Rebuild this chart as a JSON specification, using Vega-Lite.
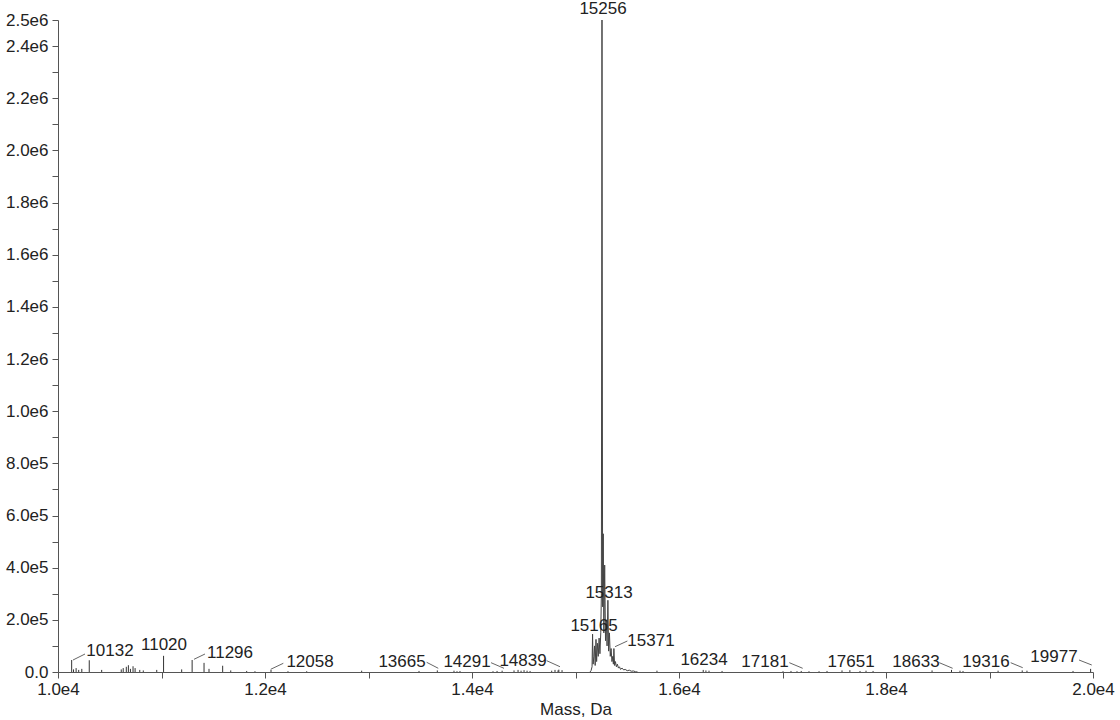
{
  "$schema": "https://vega.github.io/schema/vega-lite/v6.json",
  "width": 1035,
  "height": 652,
  "autosize": {"type": "none"},
  "padding": {"left": 58, "top": 20, "right": 27, "bottom": 48},
  "background": "white",
  "datasets": {
    "sticks": [
      {"mass": 10132, "intensity": 46000}, {"mass": 10150, "intensity": 10000}, {"mass": 10175, "intensity": 15000},
      {"mass": 10200, "intensity": 8000}, {"mass": 10230, "intensity": 12000}, {"mass": 10302, "intensity": 45000},
      {"mass": 10422, "intensity": 8000}, {"mass": 10611, "intensity": 10000}, {"mass": 10630, "intensity": 15000},
      {"mass": 10660, "intensity": 20000}, {"mass": 10680, "intensity": 26000}, {"mass": 10700, "intensity": 12000},
      {"mass": 10725, "intensity": 22000}, {"mass": 10745, "intensity": 15000}, {"mass": 10790, "intensity": 8000},
      {"mass": 10824, "intensity": 6000}, {"mass": 10954, "intensity": 8000}, {"mass": 11020, "intensity": 62000},
      {"mass": 11195, "intensity": 10000}, {"mass": 11296, "intensity": 46000}, {"mass": 11411, "intensity": 35000},
      {"mass": 11459, "intensity": 12000}, {"mass": 11591, "intensity": 24000}, {"mass": 11669, "intensity": 6000},
      {"mass": 11823, "intensity": 4000}, {"mass": 11903, "intensity": 3000}, {"mass": 12058, "intensity": 8000},
      {"mass": 12222, "intensity": 3000}, {"mass": 12403, "intensity": 3000}, {"mass": 12934, "intensity": 5000},
      {"mass": 13488, "intensity": 4000}, {"mass": 13665, "intensity": 6000}, {"mass": 13826, "intensity": 5000},
      {"mass": 13855, "intensity": 3000}, {"mass": 13884, "intensity": 4000}, {"mass": 14203, "intensity": 3000},
      {"mass": 14242, "intensity": 4000}, {"mass": 14291, "intensity": 5000}, {"mass": 14406, "intensity": 6000},
      {"mass": 14445, "intensity": 8000}, {"mass": 14474, "intensity": 5000}, {"mass": 14503, "intensity": 7000},
      {"mass": 14532, "intensity": 5000}, {"mass": 14561, "intensity": 4000}, {"mass": 14770, "intensity": 5000},
      {"mass": 14802, "intensity": 8000}, {"mass": 14831, "intensity": 6000}, {"mass": 14839, "intensity": 9000},
      {"mass": 14870, "intensity": 7000}, {"mass": 15787, "intensity": 5000}, {"mass": 16234, "intensity": 8000},
      {"mass": 16260, "intensity": 6000}, {"mass": 16290, "intensity": 5000}, {"mass": 16416, "intensity": 4000},
      {"mass": 17005, "intensity": 3000}, {"mass": 17082, "intensity": 4000}, {"mass": 17140, "intensity": 3000},
      {"mass": 17181, "intensity": 4000}, {"mass": 17256, "intensity": 3000}, {"mass": 17353, "intensity": 3000},
      {"mass": 17430, "intensity": 4000}, {"mass": 17575, "intensity": 6000}, {"mass": 17651, "intensity": 7000},
      {"mass": 17749, "intensity": 4000}, {"mass": 17807, "intensity": 5000}, {"mass": 17875, "intensity": 4000},
      {"mass": 18445, "intensity": 6000}, {"mass": 18633, "intensity": 8000}, {"mass": 18715, "intensity": 5000},
      {"mass": 18744, "intensity": 4000}, {"mass": 19083, "intensity": 5000}, {"mass": 19316, "intensity": 6000},
      {"mass": 19362, "intensity": 5000}, {"mass": 19807, "intensity": 4000}, {"mass": 19977, "intensity": 12000}
    ],
    "profile": [
      {"mass": 15140, "intensity": 0}, {"mass": 15150, "intensity": 5000}, {"mass": 15160, "intensity": 20000},
      {"mass": 15165, "intensity": 145000}, {"mass": 15170, "intensity": 30000}, {"mass": 15178, "intensity": 60000},
      {"mass": 15184, "intensity": 100000}, {"mass": 15190, "intensity": 25000}, {"mass": 15198, "intensity": 125000},
      {"mass": 15204, "intensity": 40000}, {"mass": 15212, "intensity": 110000}, {"mass": 15220, "intensity": 60000},
      {"mass": 15228, "intensity": 130000}, {"mass": 15236, "intensity": 70000}, {"mass": 15244, "intensity": 150000},
      {"mass": 15250, "intensity": 300000}, {"mass": 15256, "intensity": 2500000}, {"mass": 15262, "intensity": 250000},
      {"mass": 15268, "intensity": 530000}, {"mass": 15274, "intensity": 150000}, {"mass": 15282, "intensity": 410000},
      {"mass": 15290, "intensity": 120000}, {"mass": 15298, "intensity": 200000}, {"mass": 15305, "intensity": 100000},
      {"mass": 15313, "intensity": 275000}, {"mass": 15320, "intensity": 80000}, {"mass": 15328, "intensity": 150000},
      {"mass": 15336, "intensity": 60000}, {"mass": 15344, "intensity": 90000}, {"mass": 15352, "intensity": 40000},
      {"mass": 15360, "intensity": 60000}, {"mass": 15366, "intensity": 30000}, {"mass": 15371, "intensity": 90000},
      {"mass": 15378, "intensity": 25000}, {"mass": 15386, "intensity": 40000}, {"mass": 15395, "intensity": 20000},
      {"mass": 15405, "intensity": 30000}, {"mass": 15415, "intensity": 15000}, {"mass": 15425, "intensity": 20000},
      {"mass": 15435, "intensity": 10000}, {"mass": 15450, "intensity": 15000}, {"mass": 15465, "intensity": 8000},
      {"mass": 15480, "intensity": 10000}, {"mass": 15500, "intensity": 5000}, {"mass": 15520, "intensity": 7000},
      {"mass": 15540, "intensity": 3000}, {"mass": 15560, "intensity": 4000}, {"mass": 15580, "intensity": 1000},
      {"mass": 15600, "intensity": 0}
    ],
    "labels": [
      {"text": "15256", "lx": 15266, "ly": 2542000},
      {"text": "10132", "lx": 10502, "ly": 80500},
      {"text": "11020", "lx": 11024, "ly": 103500},
      {"text": "11296", "lx": 11662, "ly": 72800},
      {"text": "12058", "lx": 12435, "ly": 38300},
      {"text": "13665", "lx": 13324, "ly": 38300},
      {"text": "14291", "lx": 13952, "ly": 38300},
      {"text": "14839", "lx": 14493, "ly": 42200},
      {"text": "15165", "lx": 15179, "ly": 176400},
      {"text": "15313", "lx": 15324, "ly": 302900},
      {"text": "15371", "lx": 15729, "ly": 118900},
      {"text": "16234", "lx": 16242, "ly": 46000},
      {"text": "17181", "lx": 16831, "ly": 38300},
      {"text": "17651", "lx": 17662, "ly": 38300},
      {"text": "18633", "lx": 18290, "ly": 38300},
      {"text": "19316", "lx": 18966, "ly": 38300},
      {"text": "19977", "lx": 19623, "ly": 57500}
    ],
    "leaders": [
      {"m1": 10145, "i1": 46000, "m2": 10261, "i2": 69000},
      {"m1": 11314, "i1": 48700, "m2": 11420, "i2": 69000},
      {"m1": 12055, "i1": 10400, "m2": 12177, "i2": 33400},
      {"m1": 13562, "i1": 37200, "m2": 13674, "i2": 14200},
      {"m1": 14184, "i1": 35700, "m2": 14309, "i2": 14200},
      {"m1": 14722, "i1": 43300, "m2": 14850, "i2": 20300},
      {"m1": 15501, "i1": 118900, "m2": 15382, "i2": 97000},
      {"m1": 17066, "i1": 35700, "m2": 17195, "i2": 14200},
      {"m1": 18515, "i1": 35700, "m2": 18644, "i2": 14200},
      {"m1": 19205, "i1": 35700, "m2": 19321, "i2": 16500},
      {"m1": 19865, "i1": 46000, "m2": 19988, "i2": 26800}
    ]
  },
  "layer": [
    {
      "data": {"name": "sticks"},
      "mark": {"type": "rule", "color": "#333", "strokeWidth": 1},
      "encoding": {
        "x": {
          "field": "mass", "type": "quantitative",
          "scale": {"domain": [10000, 20000], "nice": false, "zero": false},
          "axis": {
            "title": "Mass, Da",
            "tickCount": 40,
            "values": [10000, 11000, 12000, 13000, 14000, 15000, 16000, 17000, 18000, 19000, 19999.99],
            "labelExpr": "datum.value > 19999 ? '2.0e4' : (datum.value % 2000 == 0 ? replace(format(datum.value, '.1e'), '+', '') : '')",
            "grid": false
          }
        },
        "y": {
          "field": "intensity", "type": "quantitative",
          "scale": {"domain": [0, 2500000], "nice": false},
          "axis": {
            "title": null,
            "tickCount": 40,
            "values": [0, 100000, 200000, 300000, 400000, 500000, 600000, 700000, 800000, 900000, 1000000, 1100000, 1200000, 1300000, 1400000, 1500000, 1600000, 1700000, 1800000, 1900000, 2000000, 2100000, 2200000, 2300000, 2400000, 2499999.9],
            "labelExpr": "datum.value == 0 ? '0.0' : (datum.value > 2499000 ? '2.5e6' : (datum.value % 200000 == 0 ? replace(format(datum.value, '.1e'), '+', '') : ''))",
            "grid": false
          }
        },
        "y2": {"datum": 0}
      }
    },
    {
      "data": {"name": "profile"},
      "mark": {"type": "line", "color": "#444", "strokeWidth": 1, "interpolate": "linear"},
      "encoding": {
        "x": {"field": "mass", "type": "quantitative"},
        "y": {"field": "intensity", "type": "quantitative"}
      }
    },
    {
      "data": {"name": "leaders"},
      "mark": {"type": "rule", "color": "#666", "strokeWidth": 1},
      "encoding": {
        "x": {"field": "m1", "type": "quantitative"},
        "y": {"field": "i1", "type": "quantitative"},
        "x2": {"field": "m2"},
        "y2": {"field": "i2"}
      }
    },
    {
      "data": {"name": "labels"},
      "mark": {"type": "text", "font": "Liberation Sans", "fontSize": 17, "color": "#222", "align": "center", "baseline": "middle", "clip": false},
      "encoding": {
        "x": {"field": "lx", "type": "quantitative"},
        "y": {"field": "ly", "type": "quantitative"},
        "text": {"field": "text"}
      }
    }
  ],
  "config": {
    "view": {"stroke": null},
    "axis": {
      "labelFont": "Liberation Sans",
      "labelFontSize": 17,
      "labelColor": "#222",
      "titleFont": "Liberation Sans",
      "titleFontSize": 17,
      "titleFontWeight": "normal",
      "titleColor": "#222",
      "domainColor": "#555",
      "tickColor": "#555",
      "tickSize": 6,
      "labelPadding": 3,
      "labelOverlap": false,
      "labelFlush": false,
      "labelBound": false
    },
    "axisX": {"titlePadding": 4},
    "axisY": {"labelPadding": 4}
  }
}
